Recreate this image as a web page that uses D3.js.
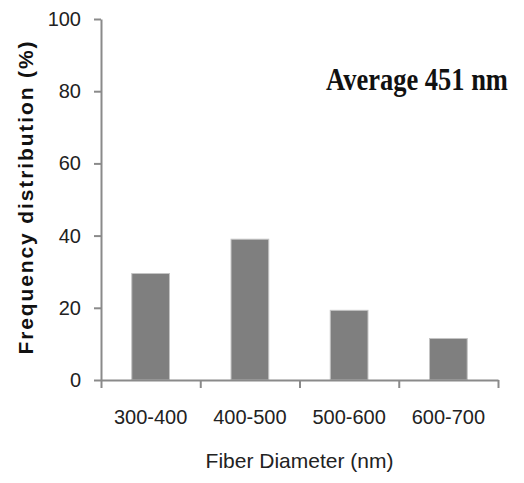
<!DOCTYPE html>
<html>
<head>
<meta charset="utf-8">
<script src="https://cdn.jsdelivr.net/npm/d3@7"></script>
<style>
  body { margin: 0; background: #fff; }
  svg { display: block; }
</style>
</head>
<body>
<div id="chart"></div>
<script>
var categories = ['300-400', '400-500', '500-600', '600-700'];
var frequency = [29.5, 39, 19.3, 11.5];
var y_ticks = [0, 20, 40, 60, 80, 100];

var width = 524, height = 483;
var margin = { left: 101, right: 26, top: 19, bottom: 103 };
var axis_color = '#8a8a8a';

var svg = d3.select('#chart').append('svg')
    .attr('width', width)
    .attr('height', height);

var x = d3.scaleBand()
    .domain(categories)
    .range([margin.left, width - margin.right])
    .paddingInner(0.62)
    .paddingOuter(0.31);

// boundaries between the categories, for the x tick marks
var xb = d3.scaleLinear()
    .domain([0, categories.length])
    .range([margin.left, width - margin.right]);

var y = d3.scaleLinear()
    .domain([0, 100])
    .range([height - margin.bottom, margin.top]);

// bars
svg.append('g')
    .selectAll('rect')
    .data(frequency)
    .enter().append('rect')
        .attr('x', function(d, i) { return x(categories[i]); })
        .attr('y', function(d) { return y(d); })
        .attr('width', x.bandwidth())
        .attr('height', function(d) { return y(0) - y(d); })
        .attr('fill', '#7f7f7f')
        .attr('stroke', '#c4c4c4')
        .attr('stroke-width', 1);

// y axis
var yaxis = svg.append('g')
    .attr('transform', 'translate(' + margin.left + ',0)')
    .call(d3.axisLeft(y).tickValues(y_ticks).tickSize(7).tickPadding(13).tickSizeOuter(0));

// x axis: marks at band boundaries
var xaxis = svg.append('g')
    .attr('transform', 'translate(0,' + y(0) + ')')
    .call(d3.axisBottom(xb).ticks(categories.length).tickSize(8).tickFormat('').tickSizeOuter(0));

// x labels at band centres
var xlabels = svg.append('g')
    .attr('transform', 'translate(0,' + y(0) + ')')
    .call(d3.axisBottom(x).tickSize(0).tickPadding(30));
xlabels.select('.domain').remove();

[yaxis, xaxis].forEach(function(g) {
    g.selectAll('.domain, line')
        .attr('stroke', axis_color)
        .attr('stroke-width', 2);
});

svg.selectAll('.tick text')
    .attr('fill', '#222')
    .style('font-family', '"Liberation Sans", Arial, sans-serif')
    .style('font-size', '20px');

// axis titles
svg.append('text')
    .attr('x', (margin.left + width - margin.right) / 2)
    .attr('y', 468)
    .attr('text-anchor', 'middle')
    .attr('fill', '#222')
    .style('font-family', '"Liberation Sans", Arial, sans-serif')
    .style('font-size', '21px')
    .text('Fiber Diameter (nm)');

svg.append('text')
    .attr('transform', 'translate(33,' + 198 + ') rotate(-90)')
    .attr('text-anchor', 'middle')
    .attr('textLength', 313)
    .attr('lengthAdjust', 'spacing')
    .attr('fill', '#111')
    .style('font-family', '"Liberation Sans", Arial, sans-serif')
    .style('font-weight', 'bold')
    .style('font-size', '21px')
    .text('Frequency distribution (%)');

// annotation (tall, narrow look of the original)
svg.append('text')
    .attr('transform', 'translate(326,90) scale(1,1.18)')
    .attr('fill', '#111')
    .style('font-family', '"Liberation Serif", "Times New Roman", serif')
    .style('font-weight', 'bold')
    .style('font-size', '26.5px')
    .text('Average 451 nm');
</script>
</body>
</html>
